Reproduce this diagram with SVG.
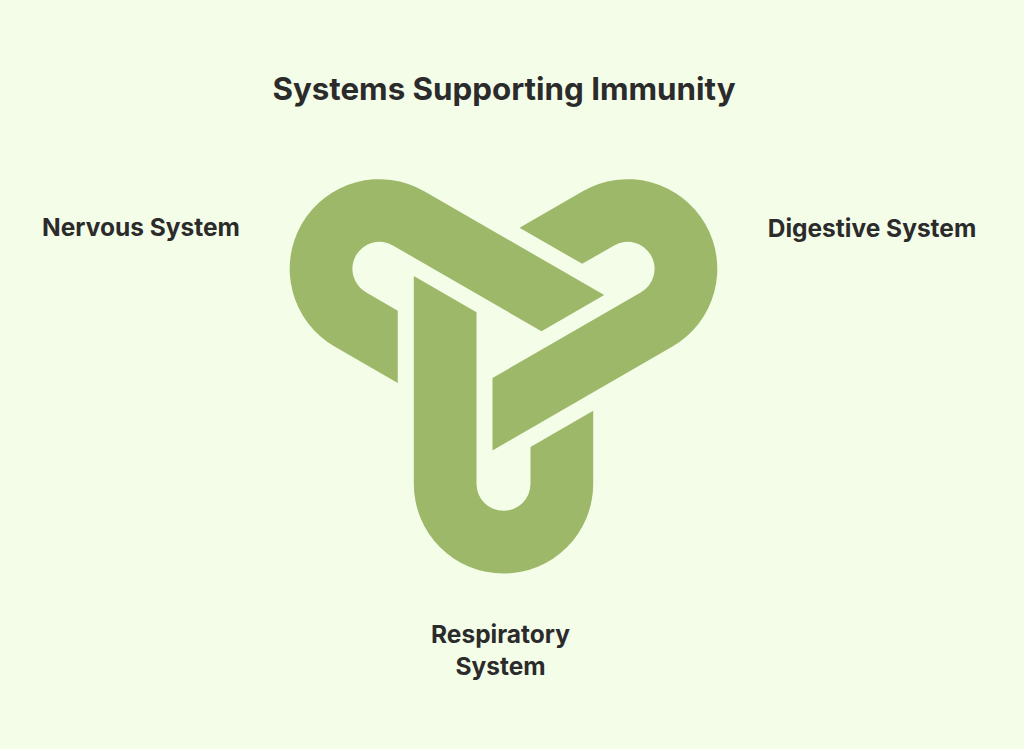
<svg xmlns="http://www.w3.org/2000/svg" width="1024" height="749" viewBox="0 0 1024 749">
  <defs>
    <style>
      .bg { fill: #F4FDE8; }
      .band { fill: #9CB868; }
      .title { font-family: Inter, Roboto, "Liberation Sans", sans-serif; font-weight: 700; font-size: 31.3px; fill: #2B2B2B; text-anchor: middle; }
      .label { font-family: Inter, Roboto, "Liberation Sans", sans-serif; font-weight: 700; font-size: 24.5px; fill: #2B2B2B; text-anchor: middle; }
    </style>
    <path id="link" d="M -89.7 -64.5 L -89.7 143.3 A 89.7 89.7 0 0 0 89.7 143.3 L 89.7 70.3 L 27 106.5 L 27 143.3 A 27 27 0 0 1 -27 143.3 L -27 -28.3 Z"/>
  </defs>
  <rect class="bg" x="0" y="0" width="1024" height="749"/>
  <text class="title" x="504" y="99.5">Systems Supporting Immunity</text>
  <g id="knot" transform="translate(503.5 340.5)">
    <g id="respiratory-link"><use href="#link" class="band"/></g>
    <g id="nervous-link"><use href="#link" class="band" transform="rotate(120)"/></g>
    <g id="digestive-link"><use href="#link" class="band" transform="rotate(240)"/></g>
  </g>
  <g id="connectors"></g>
  <g id="nervous-system"><text class="label" x="141" y="236">Nervous System</text></g>
  <g id="digestive-system"><text class="label" x="872" y="236.7">Digestive System</text></g>
  <g id="respiratory-system">
    <text class="label" x="500.5" y="643">Respiratory</text>
    <text class="label" x="500.5" y="674.5">System</text>
  </g>
</svg>
